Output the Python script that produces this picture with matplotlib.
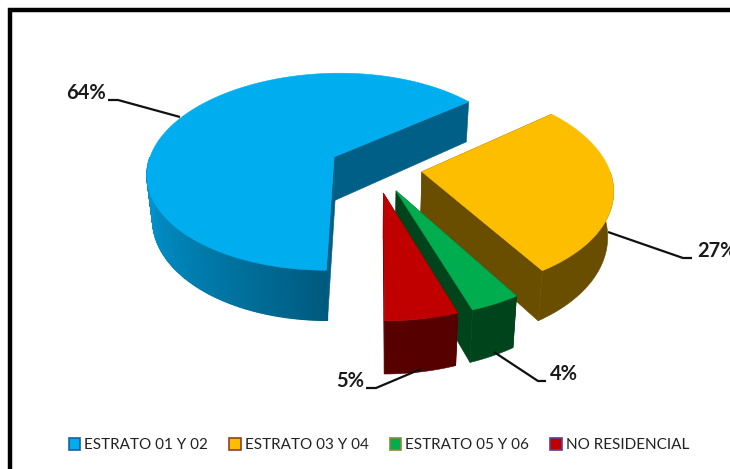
import numpy as np
import matplotlib
matplotlib.use("Agg")
import matplotlib.pyplot as plt
from matplotlib.patches import Polygon, Patch
from matplotlib.colors import to_rgb

categories = ["ESTRATO 01 Y 02", "ESTRATO 03 Y 04", "ESTRATO 05 Y 06", "NO RESIDENCIAL"]
values = [64.2, 27.0, 3.6, 5.2]
top_colors = ["#00AEEF", "#FDBE00", "#00AD4E", "#C00000"]
wall_colors = ["#005F86", "#6A4E00", "#00441C", "#560000"]
legend_edges = ["#1F5F9F", "#8F3F30", "#8A8A3A", "#5F3F8F"]

START_DEG = 269.9
EXPLODE = 0.25
CX, CY = 375.5, 167.5
A, B, K = 187.0, 99.5, 0.153
DEPTH = 44.0
BOTTOM_SX, BOTTOM_SY = 0.975, 1.06

fig = plt.figure(figsize=(7.30, 4.69), dpi=100)
ax = fig.add_axes([0, 0, 1, 1])
ax.set_xlim(0, 730)
ax.set_ylim(469, 0)
ax.axis("off")


def project(u, v, bottom=False):
    u, v = np.asarray(u, float), np.asarray(v, float)
    w = 1 + K * v
    if bottom:
        return CX + A * BOTTOM_SX * u / w, CY + DEPTH - B * BOTTOM_SY * v / w
    return CX + A * u / w, CY - B * v / w


def shade(color, f):
    return tuple(min(1, c * f) for c in to_rgb(color))


# Frame: top and left sides only reach the canvas
ax.plot([9.5, 9.5, 730], [469, 10, 10], color="black", lw=3.2, solid_joinstyle="miter", zorder=1)

angles = START_DEG - np.cumsum([0] + values) * 360 / sum(values)
z = 2
for i, val in enumerate(values):
    a0, a1 = np.radians(angles[i]), np.radians(angles[i + 1])  # clockwise
    mid = (a0 + a1) / 2
    ou, ov = EXPLODE * np.cos(mid), EXPLODE * np.sin(mid)
    th = np.linspace(a0, a1, max(int(val * 6), 12))
    u = ou + np.cos(th)
    v = ov + np.sin(th)
    tx, ty = project(u, v)
    bx, by = project(u, v, True)
    apx, apy = project(ou, ov)
    abx, aby = project(ou, ov, True)
    tc, wc = top_colors[i], wall_colors[i]

    # flat cut faces
    for (ex, ey, fx, fy) in ((tx[0], ty[0], bx[0], by[0]), (tx[-1], ty[-1], bx[-1], by[-1])):
        ax.add_patch(Polygon([(apx, apy), (ex, ey), (fx, fy), (abx, aby)],
                             closed=True, fc=wc, ec=wc, lw=0.4, zorder=z))
    z += 1
    # curved outer wall, visible front part only
    vis = np.sin(th) <= 0.0
    if i == 0:
        idx = np.where(vis)[0]
        for j in idx[:-1]:
            t = (np.degrees(th[j]) - 180) / 90
            col = shade("#0095D0", 1 - 0.40 * np.clip(t, 0, 1) ** 1.5)
            ax.add_patch(Polygon([(tx[j], ty[j]), (tx[j + 1], ty[j + 1]),
                                  (bx[j + 1], by[j + 1]), (bx[j], by[j])],
                                 closed=True, fc=col, ec=col, lw=0.9, zorder=z))
    else:
        ax.add_patch(Polygon(np.column_stack([np.r_[tx[vis], bx[vis][::-1]],
                                              np.r_[ty[vis], by[vis][::-1]]]),
                             closed=True, fc=wc, ec=wc, lw=0.4, zorder=z))
    z += 1
    # top face
    ax.add_patch(Polygon(np.column_stack([np.r_[apx, tx], np.r_[apy, ty]]),
                         closed=True, fc=tc, ec=tc, lw=0.4, zorder=z))
    z += 1

# Percent labels with leader lines (label position, elbow, pie-side end)
label_fmt = [f"{round(v)}%" for v in values]
leaders = [
    ((66, 93), [(108, 100), (118, 100), (180, 117)]),
    ((697, 251), [(692, 258), (683, 258), (608, 232)]),
    ((550, 374), [(546, 381), (538, 381), (494, 352)]),
    ((336, 381), [(366, 388), (376, 388), (421, 369)]),
]
for txt, (pos, line) in zip(label_fmt, leaders):
    xs, ys = zip(*line)
    ax.plot(xs, ys, color="#111111", lw=1.6, zorder=60, solid_capstyle="butt")
    ax.text(pos[0], pos[1], txt, fontsize=14.5, fontweight="bold", family="Lato", color="#1a1a1a",
            ha="left", va="center", zorder=61, clip_on=True)

handles = [Patch(fc=c, ec=e, lw=1.2) for c, e in zip(top_colors, legend_edges)]
fig.legend(handles, categories, loc="center", bbox_to_anchor=(379 / 730, 1 - 445 / 469), ncol=4,
           frameon=False, prop={"family": "Lato", "size": 11}, handlelength=0.75, handleheight=0.8,
           handletextpad=0.25, columnspacing=1.4, labelcolor="#222222", borderpad=0)

fig.savefig("out.png", dpi=100)
